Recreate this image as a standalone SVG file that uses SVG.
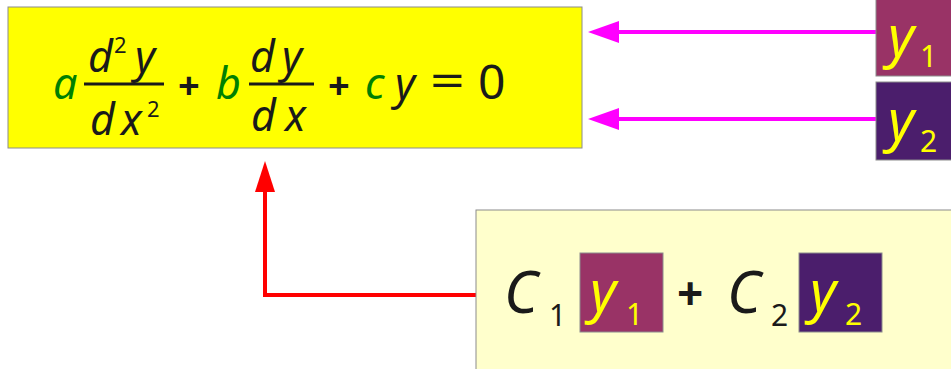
<svg xmlns="http://www.w3.org/2000/svg" width="951" height="369" viewBox="0 0 951 369">
<style>
.m{font-family:"Noto Sans","DejaVu Sans",sans-serif;font-style:italic;fill:#1a1a1a}
.n{font-family:"Noto Sans","DejaVu Sans",sans-serif;font-style:normal;fill:#1a1a1a}
.g{fill:#008000}
.yl{fill:#ffff00}
.op{font-family:"Noto Sans","DejaVu Sans",sans-serif;font-weight:bold;fill:#1a1a1a}
.box{stroke:#8c8c8c;stroke-width:1}
</style>
<g id="connectors">
<line x1="876" y1="32" x2="618" y2="32" stroke="#ff00ff" stroke-width="4"/>
<path d="M588,32L619,21L619,43z" fill="#ff00ff"/>
<line x1="876" y1="119" x2="618" y2="119" stroke="#ff00ff" stroke-width="4"/>
<path d="M588,119L619,108L619,130z" fill="#ff00ff"/>
<polyline points="476,295 265,295 265,190" fill="none" stroke="#ff0000" stroke-width="4"/>
<path d="M265,161L255,192L275,192z" fill="#ff0000"/>
</g>
<g id="equation">
<rect x="8" y="7" width="574" height="141" fill="#ffff00" class="box"/>
<text x="53" y="99" font-size="43" class="m g">a</text>
<text x="88" y="72" font-size="43" class="m">d</text>
<text x="114" y="53" font-size="22" class="n">2</text>
<text x="135" y="72" font-size="43" class="m">y</text>
<line x1="84" y1="84" x2="164" y2="84" stroke="#1a1a1a" stroke-width="3"/>
<text x="90" y="135" font-size="43" class="m">d</text>
<text x="121" y="135" font-size="43" class="m">x</text>
<text x="147" y="117" font-size="22" class="n">2</text>
<text x="178" y="99" font-size="38" class="op">+</text>
<text x="216" y="99" font-size="43" class="m g">b</text>
<text x="250" y="72" font-size="43" class="m">d</text>
<text x="282" y="72" font-size="43" class="m">y</text>
<line x1="249" y1="84" x2="314" y2="84" stroke="#1a1a1a" stroke-width="3"/>
<text x="251" y="131" font-size="43" class="m">d</text>
<text x="285" y="131" font-size="43" class="m">x</text>
<text x="328" y="99" font-size="38" class="op">+</text>
<text x="365" y="99" font-size="43" class="m g">c</text>
<text x="395" y="99" font-size="43" class="m">y</text>
<text x="430" y="97" font-size="46" class="n" textLength="35" lengthAdjust="spacingAndGlyphs">=</text>
<text x="478" y="99" font-size="48" class="n">0</text>
</g>
<g id="y1">
<rect x="876" y="-1" width="80" height="77" fill="#993366" class="box"/>
<text x="888" y="56" font-size="56" class="m yl">y</text>
<text x="920" y="67" font-size="30" class="n yl">1</text>
</g>
<g id="y2">
<rect x="876" y="82" width="80" height="78" fill="#4b1e6c" class="box"/>
<text x="888" y="140" font-size="56" class="m yl">y</text>
<text x="920" y="152" font-size="30" class="n yl">2</text>
</g>
<g id="solution">
<rect x="476" y="210" width="480" height="165" fill="#ffffcc" class="box"/>
<text x="504" y="313" font-size="58" class="m">C</text>
<text x="549" y="326" font-size="30" class="n">1</text>
<rect x="580" y="253" width="83" height="79" fill="#993366" class="box"/>
<text x="590" y="311" font-size="56" class="m yl">y</text>
<text x="626" y="325" font-size="30" class="n yl">1</text>
<text x="677" y="310" font-size="46" class="op">+</text>
<text x="727" y="313" font-size="58" class="m">C</text>
<text x="771" y="326" font-size="30" class="n">2</text>
<rect x="799" y="253" width="83" height="79" fill="#4b1e6c" class="box"/>
<text x="810" y="311" font-size="56" class="m yl">y</text>
<text x="845" y="325" font-size="30" class="n yl">2</text>
</g>
</svg>
